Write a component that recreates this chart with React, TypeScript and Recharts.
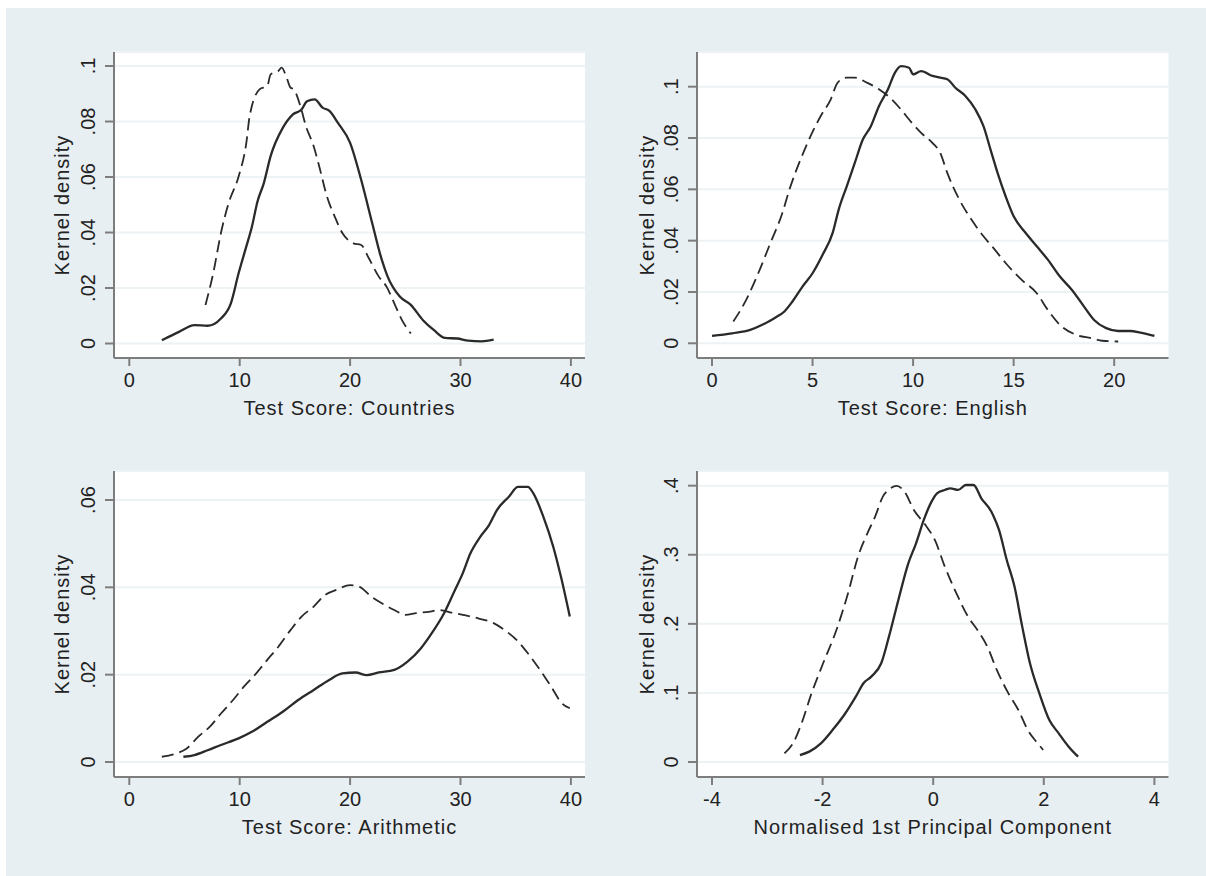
import { LineChart, Line, XAxis, YAxis, CartesianGrid, Label } from "recharts";

// kernel density estimates, [score, density]
const countriesSolid = [
  [2.95, 0.0012], [4.5, 0.0042], [5.9, 0.0066], [7.1, 0.0064], [8.3, 0.009], [9.2, 0.0145],
  [9.9, 0.0253], [10.6, 0.035], [11.1, 0.042], [11.6, 0.051], [12.2, 0.058], [12.8, 0.0675],
  [13.9, 0.0777], [14.8, 0.0825], [15.6, 0.0843], [16.1, 0.0873], [16.8, 0.088], [17.5, 0.085],
  [18.1, 0.0839], [18.9, 0.0795], [20.0, 0.0723], [21.0, 0.059], [22.0, 0.0434], [22.7, 0.0325],
  [23.4, 0.0241], [24.5, 0.0169], [25.5, 0.0139], [26.6, 0.0084], [27.6, 0.0048], [28.6, 0.002],
  [29.7, 0.0018], [30.7, 0.001], [31.9, 0.0008], [33.0, 0.0014],
];
const countriesDashed = [
  [6.9, 0.0139], [7.6, 0.0253], [8.3, 0.0398], [9.0, 0.0506], [9.9, 0.0602], [10.6, 0.0723],
  [10.9, 0.0819], [11.8, 0.0916], [12.5, 0.0928], [12.8, 0.097], [13.5, 0.0982], [13.8, 0.0994],
  [14.2, 0.0964], [14.6, 0.0922], [14.9, 0.0916], [15.5, 0.0855], [16.0, 0.0783], [16.7, 0.0711],
  [17.2, 0.0639], [17.9, 0.053], [18.6, 0.0458], [19.3, 0.0398], [20.3, 0.0361], [21.0, 0.0355],
  [21.7, 0.0307], [22.6, 0.0241], [23.3, 0.0205], [24.0, 0.0145], [24.7, 0.0084], [25.5, 0.0036],
];

const englishSolid = [
  [0, 0.0029], [1.0, 0.0039], [1.9, 0.0052], [2.5, 0.0072], [3.1, 0.0098], [3.6, 0.0124],
  [4.0, 0.0163], [4.5, 0.0221], [5.0, 0.0273], [5.5, 0.0345], [6.0, 0.043], [6.3, 0.0521],
  [6.7, 0.0612], [7.1, 0.0703], [7.5, 0.0794], [7.9, 0.0846], [8.3, 0.0924], [8.75, 0.099],
  [9.1, 0.1055], [9.4, 0.108], [9.8, 0.1074], [10.0, 0.1048], [10.4, 0.1061], [10.96, 0.1042],
  [11.35, 0.1035], [11.7, 0.1029], [12.1, 0.0996], [12.6, 0.0964], [13.1, 0.0911], [13.5, 0.0846],
  [13.85, 0.0755], [14.2, 0.0664], [14.6, 0.0573], [15.0, 0.0495], [15.6, 0.043], [16.15, 0.0378],
  [16.7, 0.0326], [17.3, 0.026], [17.9, 0.0208], [18.5, 0.0143], [19.0, 0.0091], [19.6, 0.0059],
  [20.2, 0.0048], [20.8, 0.0048], [21.3, 0.0042], [22.0, 0.0029],
];
const englishDashed = [
  [1.06, 0.0085], [1.7, 0.0169], [2.3, 0.0273], [2.9, 0.039], [3.5, 0.0508], [3.85, 0.0599],
  [4.4, 0.0716], [4.9, 0.0807], [5.4, 0.0885], [5.9, 0.095], [6.25, 0.1016], [6.7, 0.1035],
  [7.1, 0.1035], [7.7, 0.1016], [8.3, 0.099], [8.85, 0.0957], [9.4, 0.0911], [9.8, 0.0872],
  [10.4, 0.082], [10.96, 0.0781], [11.35, 0.0742], [11.7, 0.0664], [12.3, 0.056], [12.9, 0.0482],
  [13.5, 0.0417], [14.0, 0.0371], [14.6, 0.0313], [15.4, 0.0247], [16.15, 0.0195], [16.7, 0.013],
  [17.3, 0.0072], [18.1, 0.0033], [18.85, 0.002], [19.4, 0.001], [20.2, 0.0007],
];

const arithmeticSolid = [
  [4.9, 0.0012], [5.9, 0.0016], [7.1, 0.0027], [8.3, 0.0039], [9.9, 0.0054], [11.1, 0.0069],
  [12.5, 0.0092], [13.9, 0.0115], [15.3, 0.0142], [16.7, 0.0165], [18.1, 0.0188], [19.3, 0.0203],
  [20.5, 0.0205], [21.5, 0.0199], [22.6, 0.0205], [24.0, 0.0211], [25.2, 0.023], [26.4, 0.026],
  [27.4, 0.0295], [28.5, 0.034], [29.5, 0.0394], [30.2, 0.0432], [30.9, 0.0478], [31.8, 0.0516],
  [32.6, 0.0543], [33.3, 0.0577], [34.4, 0.0608], [35.2, 0.063], [36.1, 0.063], [36.6, 0.0615],
  [37.5, 0.0562], [38.4, 0.0493], [39.1, 0.0424], [39.9, 0.0333],
];
const arithmeticDashed = [
  [2.95, 0.0012], [4.3, 0.002], [5.2, 0.0031], [6.25, 0.0058], [7.3, 0.0081], [8.3, 0.0111],
  [9.4, 0.0142], [10.4, 0.0173], [11.5, 0.0203], [12.5, 0.0234], [13.5, 0.0264], [14.6, 0.0302],
  [15.6, 0.0333], [16.7, 0.0356], [17.7, 0.0382], [18.75, 0.0394], [20.0, 0.0405], [20.8, 0.0402],
  [21.9, 0.0379], [22.9, 0.0363], [24.0, 0.0348], [25.0, 0.0337], [26.0, 0.0341], [27.1, 0.0344],
  [28.1, 0.0348], [29.2, 0.0342], [30.2, 0.0337], [31.6, 0.0329], [33.0, 0.0318], [34.0, 0.0302],
  [35.1, 0.0279], [36.1, 0.0249], [37.2, 0.0211], [38.2, 0.0173], [39.2, 0.0134], [39.9, 0.0123],
];

const pcSolid = [
  [-2.41, 0.0101], [-2.24, 0.015], [-2.03, 0.027], [-1.82, 0.0463], [-1.61, 0.068], [-1.4, 0.0946],
  [-1.26, 0.114], [-1.12, 0.1236], [-0.94, 0.1429], [-0.8, 0.1815], [-0.63, 0.2346], [-0.45, 0.2876],
  [-0.31, 0.3166], [-0.17, 0.3504], [-0.03, 0.3769], [0.07, 0.389], [0.21, 0.3938], [0.31, 0.3962],
  [0.45, 0.3938], [0.59, 0.401], [0.73, 0.401], [0.87, 0.3818], [1.05, 0.3625], [1.19, 0.3359],
  [1.33, 0.2925], [1.47, 0.2539], [1.61, 0.196], [1.75, 0.1429], [1.92, 0.0994], [2.1, 0.0608],
  [2.27, 0.0415], [2.45, 0.0222], [2.62, 0.0077],
];
const pcDashed = [
  [-2.69, 0.0125], [-2.52, 0.0294], [-2.38, 0.056], [-2.2, 0.0994], [-1.99, 0.1429], [-1.75, 0.1911],
  [-1.54, 0.2442], [-1.36, 0.2973], [-1.19, 0.3311], [-1.05, 0.3552], [-0.91, 0.3842], [-0.77, 0.3962],
  [-0.66, 0.3996], [-0.52, 0.3914], [-0.35, 0.3649], [-0.14, 0.3431], [0.03, 0.3214], [0.21, 0.2828],
  [0.42, 0.2442], [0.63, 0.2104], [0.8, 0.1911], [0.98, 0.167], [1.15, 0.1332], [1.36, 0.0994],
  [1.54, 0.0753], [1.71, 0.0463], [1.89, 0.027], [1.99, 0.0174],
];

const scoreTicks40 = [0, 10, 20, 30, 40];
const englishTicks = [0, 5, 10, 15, 20];
const pcTicks = [-4, -2, 0, 2, 4];
const countriesYTicks = [0, 0.02, 0.04, 0.06, 0.08, 0.1];
const englishYTicks = [0, 0.02, 0.04, 0.06, 0.08, 0.1];
const arithmeticYTicks = [0, 0.02, 0.04, 0.06];
const pcYTicks = [0, 0.1, 0.2, 0.3, 0.4];

const BG = "#e8eff2";
const GRID = "#edf2f4";
const AXIS = "#7d7d7d";
const INK = "#222222";
const CURVE = "#2a2a2a";
const FONT = "'Liberation Sans', Arial, Helvetica, sans-serif";

// offsets around the plot area inside each chart
const PAD_L = 84;
const PAD_T = 22;
const PAD_R = 15;
const PAD_B = 72;
// page position of the grey graph region
const ORIGIN_X = 6;
const ORIGIN_Y = 8;

const toPoints = (rows: number[][]) => rows.map(([x, y]) => ({ x, y }));

const fmt = (v: number) => (v === 0 ? "0" : String(v).replace(/^(-?)0\./, "$1."));

function XTick({ x, y, payload }: any) {
  return (
    <text x={x} y={y + 21} textAnchor="middle" fontSize={20} fontFamily={FONT} fill={INK}>
      {fmt(payload.value)}
    </text>
  );
}

function YTick({ x, y, payload }: any) {
  return (
    <text
      x={x}
      y={y}
      transform={`rotate(-90, ${x}, ${y})`}
      textAnchor="middle"
      fontSize={20}
      fontFamily={FONT}
      fill={INK}
    >
      {fmt(payload.value)}
    </text>
  );
}

interface PanelProps {
  plot: [number, number, number, number]; // left, top, right, bottom on the page
  xDomain: [number, number];
  yDomain: [number, number];
  xTicks: number[];
  yTicks: number[];
  solid: number[][];
  dashed: number[][];
  xTitle: string;
  yTitleGap: number;
}

function Panel({ plot, xDomain, yDomain, xTicks, yTicks, solid, dashed, xTitle, yTitleGap }: PanelProps) {
  const [l, t, r, b] = plot;
  const plotW = r - l;
  const plotH = b - t;
  const width = plotW + PAD_L + PAD_R;
  const height = plotH + PAD_T + PAD_B;

  return (
    <div
      style={{
        position: "absolute",
        left: l - PAD_L - ORIGIN_X,
        top: t - PAD_T - ORIGIN_Y,
        width,
        height,
      }}
    >
      <LineChart width={width} height={height} margin={{ top: PAD_T, right: PAD_R, bottom: 0, left: 0 }}>
        <CartesianGrid vertical={false} fill="#ffffff" fillOpacity={1} stroke={GRID} strokeWidth={2} />
        <XAxis
          type="number"
          dataKey="x"
          domain={xDomain}
          allowDataOverflow
          ticks={xTicks}
          interval={0}
          height={PAD_B}
          tickSize={8}
          tickMargin={0}
          tick={<XTick />}
          tickLine={{ stroke: AXIS, strokeWidth: 2 }}
          axisLine={{ stroke: AXIS, strokeWidth: 2 }}
        >
          <Label
            content={() => (
              <text
                x={PAD_L + plotW / 2}
                y={PAD_T + plotH + 57}
                textAnchor="middle"
                fontSize={20}
                fontFamily={FONT}
                letterSpacing={1}
                fill={INK}
              >
                {xTitle}
              </text>
            )}
          />
        </XAxis>
        <YAxis
          type="number"
          domain={yDomain}
          allowDataOverflow
          ticks={yTicks}
          interval={0}
          width={PAD_L}
          tickSize={9}
          tickMargin={9.5}
          tick={<YTick />}
          tickLine={{ stroke: AXIS, strokeWidth: 2 }}
          axisLine={{ stroke: AXIS, strokeWidth: 2 }}
        >
          <Label
            content={() => {
              const cx = PAD_L - yTitleGap;
              const cy = PAD_T + plotH / 2;
              return (
                <text
                  x={cx}
                  y={cy}
                  transform={`rotate(-90, ${cx}, ${cy})`}
                  textAnchor="middle"
                  fontSize={20}
                  fontFamily={FONT}
                  letterSpacing={1}
                  fill={INK}
                >
                  Kernel density
                </text>
              );
            }}
          />
        </YAxis>
        <Line
          data={toPoints(dashed)}
          dataKey="y"
          type="monotone"
          stroke={CURVE}
          strokeWidth={1.8}
          strokeDasharray="12 6"
          dot={false}
          activeDot={false}
          isAnimationActive={false}
        />
        <Line
          data={toPoints(solid)}
          dataKey="y"
          type="monotone"
          stroke={CURVE}
          strokeWidth={2.3}
          dot={false}
          activeDot={false}
          isAnimationActive={false}
        />
      </LineChart>
    </div>
  );
}

export default function App() {
  return (
    <div
      style={{
        position: "fixed",
        left: ORIGIN_X,
        top: ORIGIN_Y,
        width: 1206,
        height: 876,
        background: BG,
        overflow: "hidden",
      }}
    >
      <Panel
        plot={[114, 52, 585, 358]}
        xDomain={[-1.386, 41.277]}
        yDomain={[-0.005225, 0.10505]}
        xTicks={scoreTicks40}
        yTicks={countriesYTicks}
        solid={countriesSolid}
        dashed={countriesDashed}
        xTitle="Test Score: Countries"
        yTitleGap={45}
      />
      <Panel
        plot={[696.5, 52, 1168, 358]}
        xDomain={[-0.746, 22.7]}
        yDomain={[-0.00573, 0.11352]}
        xTicks={englishTicks}
        yTicks={englishYTicks}
        solid={englishSolid}
        dashed={englishDashed}
        xTitle="Test Score: English"
        yTitleGap={43.5}
      />
      <Panel
        plot={[114, 471, 585, 777]}
        xDomain={[-1.386, 41.277]}
        yDomain={[-0.003435, 0.06664]}
        xTicks={scoreTicks40}
        yTicks={arithmeticYTicks}
        solid={arithmeticSolid}
        dashed={arithmeticDashed}
        xTitle="Test Score: Arithmetic"
        yTitleGap={45}
      />
      <Panel
        plot={[696.5, 471, 1168, 777]}
        xDomain={[-4.271, 4.255]}
        yDomain={[-0.02171, 0.42125]}
        xTicks={pcTicks}
        yTicks={pcYTicks}
        solid={pcSolid}
        dashed={pcDashed}
        xTitle="Normalised 1st Principal Component"
        yTitleGap={43.5}
      />
    </div>
  );
}
